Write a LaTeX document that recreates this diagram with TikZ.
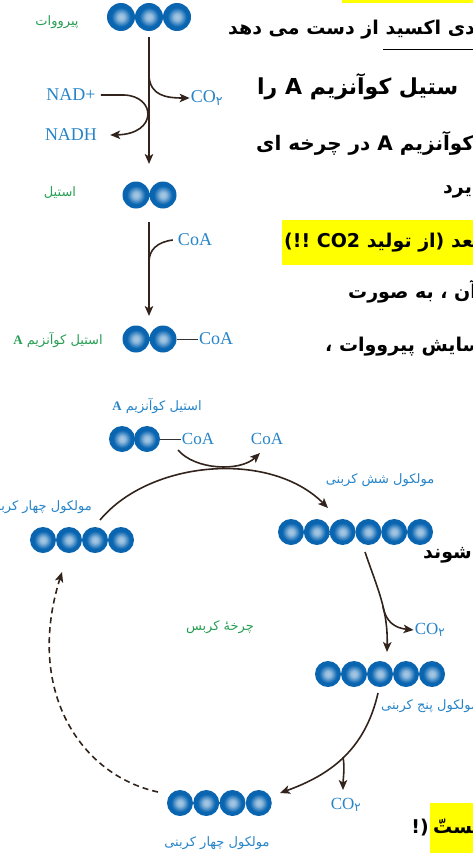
\documentclass[tikz,border=0pt]{standalone}
\usepackage{fontspec}
\setmainfont{Liberation Serif}
\newfontfamily\fa[Script=Arabic]{DejaVu Sans}
\TeXXeTstate=1
\usetikzlibrary{arrows.meta}
\definecolor{ballblue}{RGB}{10,102,178}
\definecolor{labgreen}{RGB}{40,158,85}
\definecolor{labblue}{RGB}{38,132,200}
\definecolor{arrowbrown}{RGB}{50,36,28}
\definecolor{hilite}{RGB}{255,255,0}
\pgfdeclareradialshading{beadshade}{\pgfpointorigin}{color(0bp)=(white!65!ballblue); color(6bp)=(ballblue!45!white); color(17bp)=(ballblue); color(42bp)=(ballblue!92!black); color(50bp)=(ballblue!85!black)}
\newcommand{\rtl}[1]{\beginR #1\endR}
\newcommand{\latA}{{\rmfamily\bfseries A}}
\tikzset{
  bead/.style={circle, shade, shading=beadshade, inner sep=0pt, minimum size=26pt},
  flow/.style={draw=arrowbrown, line width=1.6pt, -{Stealth[length=10pt,width=8.5pt,inset=2.5pt]}},
  link/.style={draw=arrowbrown, line width=1.6pt},
  lat/.style={text=labblue, font=\fontsize{18}{20}\selectfont, inner sep=1pt},
  falab/.style={font=\fa\fontsize{13}{15}\selectfont, inner sep=1pt},
  body/.style={anchor=west, inner sep=0pt, font=\fa\bfseries\fontsize{19}{22}\selectfont},
}
\begin{document}
\begin{tikzpicture}[x=1pt,y=-1pt]
\useasboundingbox (0,0) rectangle (473,854);
\clip (0,0) rectangle (473,854);
% text cut at the right edge
\fill[hilite] (342,0) rectangle (473,3);
\node[body] (t1) at (228,30) {\rtl{دی اکسید از دست می دهد}};
\draw[line width=1pt] (383,49) -- (473,49);
\node[body,font=\fa\bfseries\fontsize{22}{24}\selectfont] (t2) at (257,87) {\rtl{ستیل کوآنزیم A را}};
\node[body,font=\fa\bfseries\fontsize{20}{22}\selectfont] (t3) at (256,143) {\rtl{کوآنزیم A در چرخه ای}};
\node[body] (t4) at (443,192) {\rtl{یرد}};
\fill[hilite] (282,220) rectangle (473,265);
\node[body] (t5) at (284,243) {\rtl{بعد (از تولید \beginL CO2\endL{} !!)}};
\node[body] (t6) at (348,292) {\rtl{آن ، به صورت}};
\node[body] (t7) at (325,347) {\rtl{سایش پیرووات ،}};
\node[body] (t8) at (423,555) {\rtl{شوند}};
\fill[hilite] (430,803) rectangle (473,853);
\node[body] (t9) at (433,828) {\rtl{بستّ}};
\node[body,anchor=east] (t9b) at (429,828) {(!};
%
% pyruvate -> acetyl
\foreach \i/\x in {1/121,2/149,3/177} \node[bead,minimum size=28pt] (pyr\i) at (\x,17) {};
\node[falab,text=labgreen] (pyrlab) at (57,22) {\rtl{پیرووات}};
\foreach \i/\x in {1/136,2/163} \node[bead,minimum size=27pt] (act\i) at (\x,195) {};
\node[falab,text=labgreen] (actlab) at (60,193) {\rtl{استیل}};
\coordinate (dec-in) at (149,37);
\coordinate (dec-out) at (149,164);
\draw[flow] (dec-in) -- (dec-out);
\coordinate (co2-br) at (149,77);
\node[lat] (co2a) at (207,98) {CO\textsubscript{\fa ۲}};
\draw[flow] (co2-br) .. controls (151,95) and (165,98) .. (co2a.west);
\node[lat] (nadp) at (71,95) {NAD+};
\node[lat] (nadh) at (71,135) {NADH};
\draw[flow] ([xshift=4pt]nadp.east) -- (124,95) .. controls (156,96) and (158,134) .. ([xshift=12pt]nadh.east);
%
% acetyl -> acetyl CoA
\coordinate (att-in) at (149,222);
\coordinate (att-out) at (149,316);
\draw[flow] (att-in) -- (att-out);
\node[lat] (coa1) at (195,240) {CoA};
\draw[link] ([xshift=-4pt]coa1.west) .. controls (157,242) and (149,250) .. (149,262);
\foreach \i/\x in {1/136,2/163} \node[bead,minimum size=27pt] (acc\i) at (\x,339) {};
\node[lat] (coa2) at (216,339) {CoA};
\draw[black!80,line width=1pt] (acc2.east) -- (coa2.west);
\node[falab,text=labgreen] (acclab) at (58,340) {\rtl{استیل کوآنزیم \latA}};
%
% Krebs cycle
\node[falab,text=labblue] (inlab) at (157,406) {\rtl{استیل کوآنزیم \latA}};
\foreach \i/\x in {1/122,2/147} \node[bead] (in\i) at (\x,439) {};
\node[lat,font=\fontsize{17}{19}\selectfont] (coa3) at (198,439) {CoA};
\draw[black!80,line width=1pt] (in2.east) -- (coa3.west);
\node[lat,font=\fontsize{17}{19}\selectfont] (coa4) at (267,439) {CoA};
\coordinate (coa-in) at (178,450);
\coordinate (coa-out) at (260,453);
\draw[flow] (coa-in) .. controls (195,470) and (240,472) .. (coa-out);
%
\foreach \i in {1,...,4} \node[bead] (fa\i) at (17+26*\i,540) {};
\node[falab,text=labblue,anchor=east] (falab) at (93,507) {\rtl{مولکول چهار کربنی}};
\foreach \i in {1,...,6} \node[bead] (six\i) at (265.2+25.8*\i,532) {};
\node[falab,text=labblue] (sixlab) at (380,480) {\rtl{مولکول شش کربنی}};
\coordinate (fa-out) at (100,520);
\coordinate (six-in) at (328,508);
\draw[flow] (fa-out) .. controls (150,460) and (270,450) .. (six-in);
%
\foreach \i in {1,...,5} \node[bead] (five\i) at (302+26*\i,674) {};
\node[falab,text=labblue,anchor=west] (fivelab) at (380,706) {\rtl{مولکول پنج کربنی}};
\coordinate (six-out) at (365,552);
\coordinate (five-in) at (387,652);
\draw[flow] (six-out) .. controls (378,590) and (388,610) .. (five-in);
\node[lat,font=\fontsize{17}{19}\selectfont] (co2b) at (430,630) {CO\textsubscript{\fa ۲}};
\draw[flow] (383,607) .. controls (386,622) and (395,628) .. (co2b.west);
%
\foreach \i in {1,...,4} \node[bead] (fb\i) at (153.75+26.25*\i,803) {};
\node[falab,text=labblue] (fblab) at (217,843) {\rtl{مولکول چهار کربنی}};
\coordinate (five-out) at (378,693);
\coordinate (fb-in) at (280,793);
\draw[flow] (five-out) .. controls (365,750) and (330,775) .. (fb-in);
\node[lat,font=\fontsize{17}{19}\selectfont] (co2c) at (346,805) {CO\textsubscript{\fa ۲}};
\draw[flow] (343,757) .. controls (345,768) and (343,780) .. (343,790);
%
\coordinate (fb-out) at (158,792);
\coordinate (fa-in) at (62,572);
\draw[flow,dashed,dash pattern=on 6pt off 4pt] (fb-out) .. controls (80,775) and (25,690) .. (fa-in);
\node[falab,text=labgreen] (krebs) at (220,627) {\rtl{چرخهٔ کربس}};
\end{tikzpicture}
\end{document}
